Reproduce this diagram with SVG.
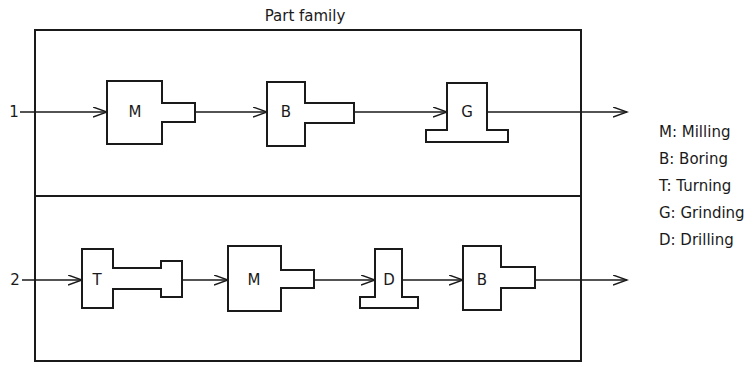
<svg xmlns="http://www.w3.org/2000/svg" width="746" height="365" viewBox="0 0 746 365">
<style>
.frame{fill:none;stroke:#1a1a1a;stroke-width:2}
.m{fill:#fff;stroke:#1a1a1a;stroke-width:2;stroke-linejoin:miter}
.flow{fill:none;stroke:#1a1a1a;stroke-width:1.4}
text{font-family:"DejaVu Sans","Liberation Sans",sans-serif;font-size:15px;fill:#1a1a1a}
.c{text-anchor:middle}
</style>
<defs>
<marker id="ah" markerUnits="userSpaceOnUse" markerWidth="16" markerHeight="12" refX="14" refY="5" orient="auto">
<path d="M0,0 L14,5 L0,10" fill="none" stroke="#1a1a1a" stroke-width="1.4"/>
</marker>
</defs>
<rect fill="#fff" width="746" height="365"/>
<g id="frame">
<rect class="frame" x="35" y="30" width="546" height="331"/>
<line class="frame" x1="35" y1="196" x2="581" y2="196"/>
<text class="c" x="305" y="21">Part family</text>
</g>
<g id="connectors">
<line class="flow" x1="20" y1="112" x2="107" y2="112" marker-end="url(#ah)"/>
<line class="flow" x1="195" y1="112" x2="267" y2="112" marker-end="url(#ah)"/>
<line class="flow" x1="354" y1="112" x2="447" y2="112" marker-end="url(#ah)"/>
<line class="flow" x1="487" y1="112" x2="627" y2="112" marker-end="url(#ah)"/>
<line class="flow" x1="22" y1="280" x2="82" y2="280" marker-end="url(#ah)"/>
<line class="flow" x1="182" y1="280" x2="228" y2="280" marker-end="url(#ah)"/>
<line class="flow" x1="314" y1="280" x2="375" y2="280" marker-end="url(#ah)"/>
<line class="flow" x1="402" y1="280" x2="463" y2="280" marker-end="url(#ah)"/>
<line class="flow" x1="535" y1="280" x2="627" y2="280" marker-end="url(#ah)"/>
</g>
<g id="label-1"><text x="14" y="117" class="c">1</text></g>
<g id="label-2"><text x="15" y="285" class="c">2</text></g>
<g id="r1-M">
<path class="m" d="M107,81 H162 V103 H195 V122 H162 V144 H107 Z"/>
<text class="c" x="135" y="117">M</text>
</g>
<g id="r1-B">
<path class="m" d="M267,82 H305 V103 H354 V123 H305 V146 H267 Z"/>
<text class="c" x="286" y="117">B</text>
</g>
<g id="r1-G">
<path class="m" d="M447,83 H487 V130 H508 V142 H426 V130 H447 Z"/>
<text class="c" x="467" y="117">G</text>
</g>
<g id="r2-T">
<path class="m" d="M82,249 H113 V268 H161 V261 H182 V297 H161 V289 H113 V308 H82 Z"/>
<text class="c" x="97" y="285">T</text>
</g>
<g id="r2-M">
<path class="m" d="M228,246 H281 V270 H314 V288 H281 V311 H228 Z"/>
<text class="c" x="254" y="285">M</text>
</g>
<g id="r2-D">
<path class="m" d="M375,249 H402 V297 H418 V308 H360 V297 H375 Z"/>
<text class="c" x="389" y="285">D</text>
</g>
<g id="r2-B">
<path class="m" d="M463,246 H501 V267 H535 V288 H501 V310 H463 Z"/>
<text class="c" x="482" y="285">B</text>
</g>
<g id="legend">
<text x="659" y="137">M: Milling</text>
<text x="659" y="164">B: Boring</text>
<text x="659" y="191">T: Turning</text>
<text x="659" y="218">G: Grinding</text>
<text x="659" y="245">D: Drilling</text>
</g>
</svg>
